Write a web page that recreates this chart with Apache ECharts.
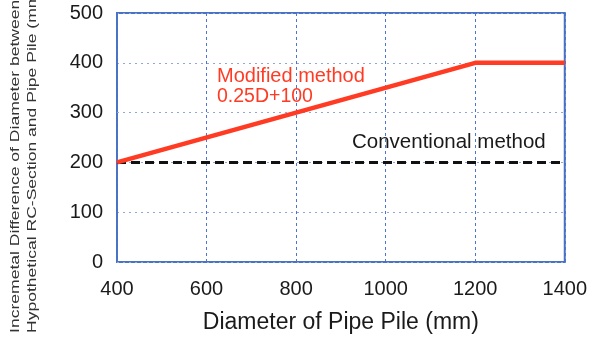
<!DOCTYPE html>
<html><head><meta charset="utf-8">
<script src="https://cdn.jsdelivr.net/npm/echarts@6/dist/echarts.min.js"></script>
<style>html,body{margin:0;padding:0;background:#fff}#c{width:590px;height:339px}</style>
</head><body><div id="c"></div>
<script>
const modifiedX = [400, 1200, 1400];
const modifiedY = [200, 400, 400];
const conventionalX = [400, 1400];
const conventionalY = [200, 200];
const xTicks = [400, 600, 800, 1000, 1200, 1400];
const yTicks = [0, 100, 200, 300, 400, 500];
const xTitle = 'Diameter of Pipe Pile (mm)';
const yTitle1 = 'Incremetal Difference of Diameter between';
const yTitle2 = 'Hypothetical RC-Section and Pipe Pile (mm)';
const modLabel1 = 'Modified method';
const modLabel2 = '0.25D+100';
const convLabel = 'Conventional method';

const chart = echarts.init(document.getElementById('c'));
const font = 'Arial, "Liberation Sans", sans-serif';
chart.setOption({
  animation: false,
  grid: {left: 117, right: 23, top: 13, bottom: 76, show: true, borderColor: '#4a72c4', borderWidth: 2, backgroundColor: 'transparent'},
  xAxis: {
    type: 'value', min: xTicks[0], max: xTicks[xTicks.length-1], interval: 200,
    axisLine: {show: false}, axisTick: {show: false},
    axisLabel: {color: '#1a1a1a', fontSize: 20, fontFamily: font, margin: 17, formatter: v => String(v)},
    splitLine: {show: true, lineStyle: {color: '#4f74cc', type: [3, 3], width: 1}},
    name: xTitle, nameLocation: 'middle', nameGap: 49,
    nameTextStyle: {color: '#1a1a1a', fontSize: 23, fontFamily: font}
  },
  yAxis: {
    type: 'value', min: yTicks[0], max: yTicks[yTicks.length-1], interval: 100,
    axisLine: {show: false}, axisTick: {show: false},
    axisLabel: {color: '#1a1a1a', fontSize: 20, fontFamily: font, margin: 14, padding: [0, 0, 8, 0], formatter: v => String(v)},
    splitLine: {show: true, lineStyle: {color: '#8fa7e0', type: [2, 4], width: 1}}
  },
  series: [
    {type: 'line', data: conventionalX.map((x, i) => [x, conventionalY[i]]), symbol: 'none',
     lineStyle: {color: '#111', width: 3, type: [9, 5]}, z: 2},
    {type: 'line', data: modifiedX.map((x, i) => [x, modifiedY[i]]), symbol: 'none',
     lineStyle: {color: '#ff3b24', width: 4.5}, z: 3}
  ],
  graphic: [
    {type: 'text', x: 15, y: 333, rotation: Math.PI / 2, scaleX: 1.35,
     style: {text: yTitle1, fontSize: 13, fontFamily: font, fill: '#333', textAlign: 'left', textVerticalAlign: 'middle'}},
    {type: 'text', x: 32, y: 333, rotation: Math.PI / 2, scaleX: 1.35,
     style: {text: yTitle2, fontSize: 13, fontFamily: font, fill: '#333', textAlign: 'left', textVerticalAlign: 'middle'}},
    {type: 'text', x: 217, y: 76,
     style: {text: modLabel1, fontSize: 20, fontFamily: font, fill: '#ff3b24', textAlign: 'left', textVerticalAlign: 'middle'}},
    {type: 'text', x: 217, y: 97,
     style: {text: modLabel2, fontSize: 19.5, fontFamily: font, fill: '#ff3b24', textAlign: 'left', textVerticalAlign: 'middle'}},
    {type: 'text', x: 352, y: 142,
     style: {text: convLabel, fontSize: 20.5, fontFamily: font, fill: '#1a1a1a', textAlign: 'left', textVerticalAlign: 'middle'}}
  ]
});
</script></body></html>
